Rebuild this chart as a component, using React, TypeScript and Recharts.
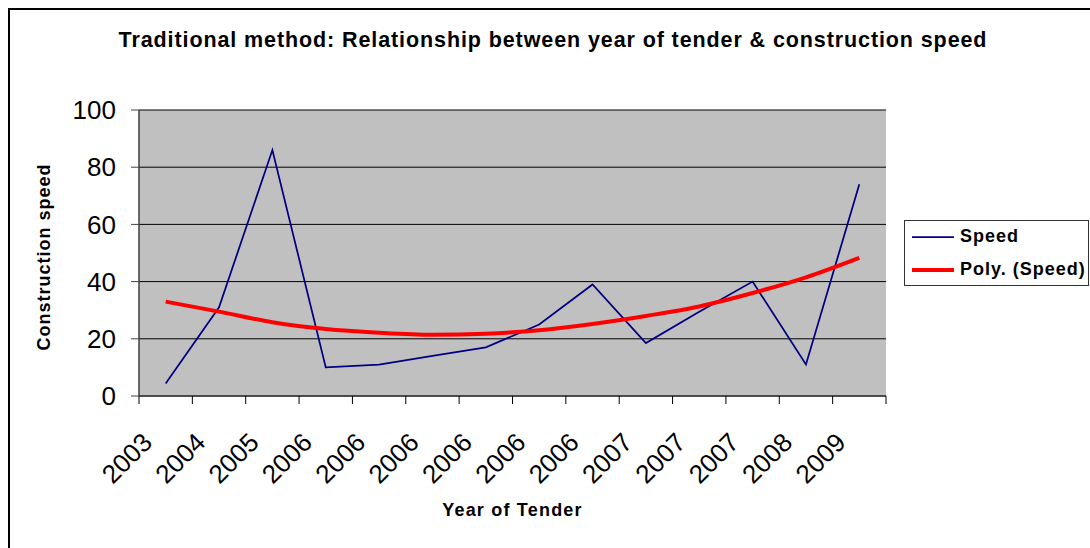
import { CartesianGrid, Legend, Line, LineChart, XAxis, YAxis } from 'recharts';

const years = ['2003', '2004', '2005', '2006', '2006', '2006', '2006', '2006', '2006', '2007', '2007', '2007', '2008', '2009'];
const speed = [4.4, 31, 86, 10, 11, 14, 17, 25, 39, 18.5, 29.5, 40, 11, 74];
const polySpeed = [33, 29.5, 25.8, 23.4, 22.1, 21.4, 21.8, 23, 25.2, 28, 31.3, 36, 41.5, 48.3];
const yTicks = [0, 20, 40, 60, 80, 100];
const seriesNames = ['Speed', 'Poly. (Speed)'];

const W = 1090;
const H = 548;
const MARGIN = { top: 110, right: 204, bottom: 0, left: 0 };
const Y_AXIS_W = 139;
const X_AXIS_H = 152;
const PLOT_W = W - MARGIN.left - MARGIN.right - Y_AXIS_W;
const STEP = PLOT_W / years.length;
const FONT = '"Liberation Sans", Arial, sans-serif';

const data = years.map((year, i) => ({ i, year, speed: speed[i], poly: polySpeed[i] }));

function YearTick(props: any) {
  const { x, y, payload, index } = props;
  const last = index === years.length - 1;
  return (
    <g>
      <line x1={x - STEP / 2} y1={y} x2={x - STEP / 2} y2={y + 8} stroke="#000" />
      {last && <line x1={x + STEP / 2} y1={y} x2={x + STEP / 2} y2={y + 8} stroke="#000" />}
      <text
        x={x - 12}
        y={y + 48}
        transform={`rotate(-45, ${x - 12}, ${y + 48})`}
        textAnchor="end"
        fontSize={26}
        fontFamily={FONT}
        fill="#000"
      >
        {years[payload.value]}
      </text>
    </g>
  );
}

function LegendBox({ payload }: any) {
  const items = [...(payload || [])].sort(
    (a: any, b: any) => seriesNames.indexOf(a.value) - seriesNames.indexOf(b.value),
  );
  return (
    <div style={{ border: '1px solid #333', background: '#fff', width: 183, height: 64 }}>
      <svg width={183} height={64}>
        {items.map((item: any, k: number) => {
          const cy = 16 + k * 33;
          return (
            <g key={item.value}>
              <line
                x1={7}
                y1={cy}
                x2={49}
                y2={cy}
                stroke={item.color}
                strokeWidth={item.value === 'Speed' ? 1.75 : 4}
              />
              <text
                x={55}
                y={cy + 5}
                fontSize={18}
                fontWeight="bold"
                letterSpacing={1}
                fontFamily={FONT}
                fill="#000"
              >
                {item.value}
              </text>
            </g>
          );
        })}
      </svg>
    </div>
  );
}

export default function App() {
  return (
    <div style={{ position: 'absolute', left: 0, top: 0, width: W, height: H, overflow: 'hidden', background: '#fff' }}>
      <div
        style={{
          position: 'absolute',
          left: 8,
          top: 8,
          width: W,
          height: H,
          borderLeft: '2px solid #000',
          borderTop: '2px solid #000',
        }}
      />
      <div
        style={{
          position: 'absolute',
          left: 553,
          top: 28,
          transform: 'translateX(-50%)',
          whiteSpace: 'nowrap',
          fontFamily: FONT,
          fontWeight: 'bold',
          fontSize: 21.5,
          letterSpacing: 0.9,
          color: '#000',
        }}
      >
        Traditional method: Relationship between year of tender &amp; construction speed
      </div>
      <div style={{ position: 'absolute', left: 0, top: 0 }}>
        <LineChart width={W} height={H} data={data} margin={MARGIN}>
          <CartesianGrid vertical={false} fill="#C0C0C0" fillOpacity={1} stroke="#000" />
          <XAxis
            dataKey="i"
            height={X_AXIS_H}
            padding={{ left: STEP / 2, right: STEP / 2 }}
            axisLine={{ stroke: '#404040', strokeWidth: 1.5 }}
            tickLine={false}
            tickSize={0}
            tickMargin={0}
            interval={0}
            tick={<YearTick />}
            label={{
              content: (p: any) => (
                <text
                  x={p.viewBox.x + p.viewBox.width / 2}
                  y={516}
                  textAnchor="middle"
                  fontSize={18}
                  fontWeight="bold"
                  letterSpacing={1.2}
                  fontFamily={FONT}
                  fill="#000"
                >
                  Year of Tender
                </text>
              ),
            }}
          />
          <XAxis xAxisId="top" dataKey="i" orientation="top" height={0} tick={false} tickLine={false} axisLine={{ stroke: '#808080' }} />
          <YAxis
            width={Y_AXIS_W}
            domain={[0, 100]}
            ticks={yTicks}
            tickSize={8}
            tickMargin={15}
            axisLine={{ stroke: '#404040', strokeWidth: 1.5 }}
            tickLine={{ stroke: '#404040' }}
            tick={{ fontSize: 26, fill: '#000', fontFamily: FONT }}
            label={{
              content: () => (
                <text
                  x={50}
                  y={257}
                  transform="rotate(-90, 50, 257)"
                  textAnchor="middle"
                  fontSize={18}
                  fontWeight="bold"
                  letterSpacing={1}
                  fontFamily={FONT}
                  fill="#000"
                >
                  Construction speed
                </text>
              ),
            }}
          />
          <YAxis yAxisId="right" orientation="right" width={0} domain={[0, 100]} tick={false} tickLine={false} axisLine={{ stroke: '#808080' }} />
          <Legend
            layout="horizontal"
            align="center"
            verticalAlign="middle"
            wrapperStyle={{ left: 904, top: 220, width: 185 }}
            content={<LegendBox />}
          />
          <Line
            name="Speed"
            dataKey="speed"
            type="linear"
            stroke="#000080"
            strokeWidth={1.75}
            dot={false}
            activeDot={false}
            isAnimationActive={false}
          />
          <Line
            name="Poly. (Speed)"
            dataKey="poly"
            type="monotone"
            stroke="#FF0000"
            strokeWidth={4}
            dot={false}
            activeDot={false}
            isAnimationActive={false}
          />
        </LineChart>
      </div>
    </div>
  );
}
